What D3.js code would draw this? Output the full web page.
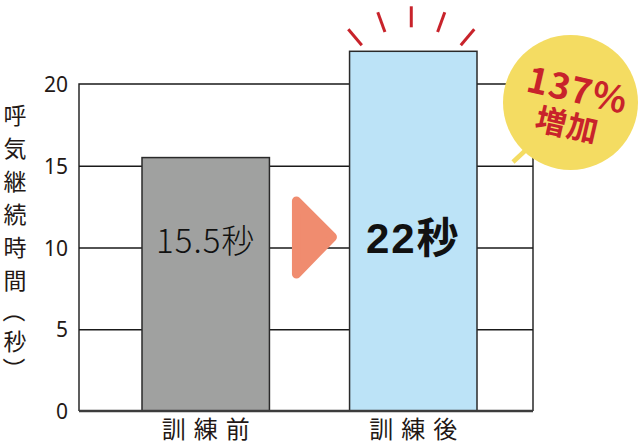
<!DOCTYPE html>
<html><head>
<meta charset="utf-8">
<script src="https://d3js.org/d3.v7.min.js"></script>
<style>
  body { margin: 0; background: #fff; }
  .gridlines line { stroke: #1a1a1a; stroke-width: 1.3; }
  .gridlines .domain { stroke: none; }
  .y.axis .domain { stroke: none; }
  .y.axis text { font-family: "Noto Sans", sans-serif; font-size: 21px; fill: #231815; }
</style>
</head>
<body>
<svg id="chart" width="638" height="444"></svg>
<script>
  // data
  const categories = ['訓練前', '訓練後'];
  const values = [15.5, 22];
  const valueLabels = ['15.5秒', '22秒'];
  const yTicks = [0, 5, 10, 15, 20];
  const yTitle = '呼気継続時間（秒）';
  const badgeLines = ['137%', '増加'];

  const svg = d3.select('svg#chart');
  const margins = {top: 84, right: 105, bottom: 33, left: 79};
  const width = +svg.attr('width');
  const height = +svg.attr('height');
  const chartWidth = width - margins.left - margins.right;
  const chartHeight = height - margins.top - margins.bottom;

  const yScale = d3.scaleLinear().domain([0, 20]).range([margins.top + chartHeight, margins.top]);
  const xScale = d3.scaleBand().domain(categories)
                   .range([142, 477]).paddingInner(0.386).paddingOuter(0);

  // frame
  svg.append('path')
     .attr('d', `M${margins.left},${yScale(0)}V${margins.top}H${margins.left + chartWidth}V${yScale(0)}`)
     .attr('fill', 'none').attr('stroke', '#1a1a1a').attr('stroke-width', 1.4);

  // gridlines
  svg.append('g')
     .attr('class', 'gridlines')
     .attr('transform', `translate(${margins.left},0)`)
     .call(d3.axisLeft(yScale).tickValues([5, 10, 15]).tickSize(-chartWidth).tickFormat(''));

  // tick labels
  svg.append('g')
     .attr('class', 'y axis')
     .attr('transform', `translate(${margins.left},0)`)
     .call(d3.axisLeft(yScale).tickValues(yTicks).tickSize(0).tickPadding(11))
     .selectAll('text').attr('dy', '0.36em');

  // y title, stacked one character at a time (brackets turned for vertical text)
  const titleChars = Array.from(yTitle);
  const charY = (c, i) => i < 6 ? 114 + i * 33 : [311, 340, 369][i - 6];
  svg.append('g')
     .attr('font-family', '"Noto Sans CJK JP", sans-serif')
     .attr('font-size', 23).attr('fill', '#231815')
     .selectAll('text').data(titleChars).join('text')
     .attr('x', 15).attr('y', (c, i) => charY(c, i))
     .attr('text-anchor', 'middle').attr('dominant-baseline', 'central')
     .attr('transform', (c, i) => '（）'.includes(c) ? `rotate(90,15,${charY(c, i)})` : null)
     .text(c => c);

  // bars
  const fills = ['#a0a1a0', '#bce3f7'];
  svg.selectAll('rect.bar').data(values).join('rect')
     .attr('class', 'bar')
     .attr('x', (d, i) => xScale(categories[i]))
     .attr('y', d => yScale(d))
     .attr('width', xScale.bandwidth())
     .attr('height', d => yScale(0) - yScale(d))
     .attr('fill', (d, i) => fills[i])
     .attr('stroke', '#2a2a2a').attr('stroke-width', 1.5);

  // baseline
  svg.append('line')
     .attr('x1', margins.left).attr('x2', margins.left + chartWidth)
     .attr('y1', yScale(0)).attr('y2', yScale(0))
     .attr('stroke', '#3c3c3c').attr('stroke-width', 2.5);

  // value labels inside bars
  svg.append('text')
     .attr('x', xScale(categories[0]) + xScale.bandwidth() / 2).attr('y', 253)
     .attr('text-anchor', 'middle')
     .attr('font-family', '"Noto Sans CJK JP", sans-serif')
     .attr('font-size', 33).attr('font-weight', 300).attr('letter-spacing', 1)
     .attr('fill', '#111')
     .text(valueLabels[0]);
  svg.append('text')
     .attr('x', xScale(categories[1]) + xScale.bandwidth() / 2).attr('y', 253)
     .attr('text-anchor', 'middle')
     .attr('font-family', '"Liberation Sans", "Noto Sans CJK JP", sans-serif')
     .attr('font-size', 42).attr('font-weight', 700).attr('letter-spacing', 2)
     .attr('fill', '#111')
     .text(valueLabels[1]);

  // category labels
  svg.selectAll('text.cat').data(categories).join('text')
     .attr('class', 'cat')
     .attr('x', d => xScale(d) + xScale.bandwidth() / 2 + 4)
     .attr('y', 438)
     .attr('text-anchor', 'middle')
     .attr('font-family', '"Noto Sans CJK JP", sans-serif')
     .attr('font-size', 24).attr('letter-spacing', 8)
     .attr('fill', '#231815')
     .text(d => d);

  // arrow between the bars
  const ax = xScale(categories[0]) + xScale.bandwidth() + 27;
  const ay = 237;
  svg.append('path')
     .attr('d', `M${ax},${ay - 36}L${ax + 36},${ay}L${ax},${ay + 37}Z`)
     .attr('fill', '#f08c6f').attr('stroke', '#f08c6f')
     .attr('stroke-width', 9).attr('stroke-linejoin', 'round');

  // burst lines over the taller bar
  const bx = xScale(categories[1]) + xScale.bandwidth() / 2 - 2;
  const by = yScale(values[1]) + 53;
  [-40, -20, 0, 20, 40].forEach(a => {
    const r = a * Math.PI / 180;
    svg.append('line')
       .attr('x1', bx + 77 * Math.sin(r)).attr('y1', by - 77 * Math.cos(r))
       .attr('x2', bx + 98 * Math.sin(r)).attr('y2', by - 98 * Math.cos(r))
       .attr('stroke', '#c8232b').attr('stroke-width', 3).attr('stroke-linecap', 'butt');
  });

  // badge
  svg.append('line')
     .attr('x1', 513).attr('y1', 162).attr('x2', 528).attr('y2', 148)
     .attr('stroke', '#f4dc62').attr('stroke-width', 4.5);
  svg.append('circle')
     .attr('cx', 570.5).attr('cy', 102.5).attr('r', 67.5)
     .attr('fill', '#f4dc62');
  const badge = svg.append('g')
     .attr('transform', 'translate(570.5,102.5) rotate(13)')
     .attr('font-family', '"Noto Sans CJK JP", sans-serif')
     .attr('font-weight', 700).attr('fill', '#c8232b')
     .attr('text-anchor', 'middle');
  badge.append('text').attr('x', 4).attr('y', -1)
       .attr('font-size', 36).attr('letter-spacing', 1).text(badgeLines[0]);
  badge.append('text').attr('x', 2).attr('y', 34)
       .attr('font-size', 31).attr('letter-spacing', 1).text(badgeLines[1]);
</script>
</body>
</html>
